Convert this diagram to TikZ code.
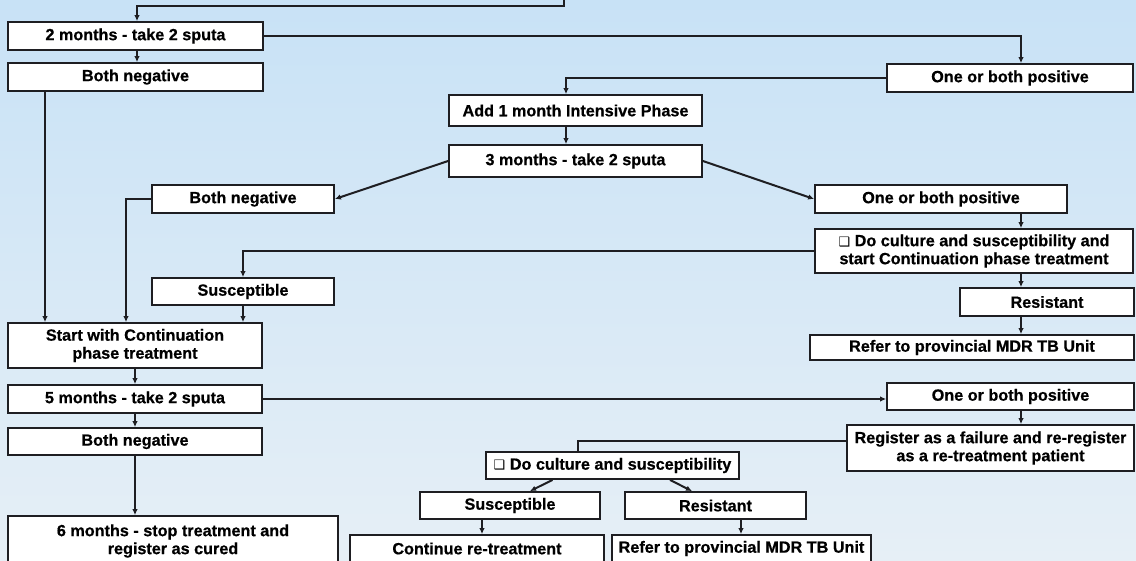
\documentclass[tikz,border=0pt]{standalone}
\usepackage{fontspec}
\setmainfont{Liberation Sans}[BoldFeatures={FakeBold=0.6}]
\newfontfamily\symfont{DejaVu Sans}
\usetikzlibrary{arrows.meta,calc}
\definecolor{bgtop}{RGB}{200,226,246}
\definecolor{bgbot}{RGB}{230,239,246}
\definecolor{ink}{RGB}{30,30,34}
\newcommand{\chk}{{\symfont\fontsize{13}{13}\selectfont ❑}}
\tikzset{
  box/.style={draw=ink, line width=1.8pt, fill=white, inner sep=0pt, align=center,
    font=\fontsize{16.2}{18}\selectfont\bfseries, text=black},
  arr/.style={draw=ink, line width=2pt, -{Latex[length=6pt,width=5.5pt]}},
  ln/.style={draw=ink, line width=2pt},
}
\begin{document}
\begin{tikzpicture}[x=1pt,y=-1pt]
\useasboundingbox (0,0) rectangle (1136,560);
\clip (0,0) rectangle (1136,560);
\shade[top color=bgtop, bottom color=bgbot] (0,0) rectangle (1136,560);

\node[box, minimum width=255, minimum height=28] (m2)   at (135.5,36)   {2 months - take 2 sputa};
\node[box, minimum width=255, minimum height=28] (neg1) at (135.5,77)   {Both negative};
\node[box, minimum width=246, minimum height=28] (pos1) at (1010,78)    {One or both positive};
\node[box, minimum width=253, minimum height=31] (add1) at (575.5,110.5){Add 1 month Intensive Phase};
\node[box, minimum width=253, minimum height=32] (m3)   at (575.5,161)  {3 months - take 2 sputa};
\node[box, minimum width=182, minimum height=28] (neg2) at (243,199)    {Both negative};
\node[box, minimum width=252, minimum height=28] (pos2) at (941,199)    {One or both positive};
\node[box, minimum width=318, minimum height=44] (cult1) at (974,251)   {\chk\ Do culture and susceptibility and\\start Continuation phase treatment};
\node[box, minimum width=182, minimum height=27] (susc1) at (243,291.5) {Susceptible};
\node[box, minimum width=174, minimum height=28] (res1) at (1047,302)   {Resistant};
\node[box, minimum width=324, minimum height=25] (mdr1) at (972,347.5)  {Refer to provincial MDR TB Unit};
\node[box, minimum width=254, minimum height=45] (start) at (135,345.5) {Start with Continuation\\phase treatment};
\node[box, minimum width=254, minimum height=28] (m5)   at (135,399)    {5 months - take 2 sputa};
\node[box, minimum width=254, minimum height=27] (neg3) at (135,441.5)  {Both negative};
\node[box, minimum width=330, minimum height=50] (m6)   at (173,541)    {6 months - stop treatment and\\register as cured};
\node[box, minimum width=247, minimum height=27] (pos3) at (1010.5,396.5){One or both positive};
\node[box, minimum width=287, minimum height=46] (reg)  at (990.5,448)  {Register as a failure and re-register\\as a re-treatment patient};
\node[box, minimum width=253, minimum height=27] (cult2) at (612.5,465.5){\chk\ Do culture and susceptibility};
\node[box, minimum width=180, minimum height=27] (susc2) at (510,505.5) {Susceptible};
\node[box, minimum width=181, minimum height=27] (res2) at (715.5,505.5){Resistant};
\node[box, minimum width=254, minimum height=27] (cont) at (477,548.5)  {Continue re-treatment};
\node[box, minimum width=259, minimum height=27] (mdr2) at (741.5,548.5){Refer to provincial MDR TB Unit};

\coordinate (topc) at (564,-2);

% connectors
\draw[arr] (topc) -- ++(0,8) -| ([xshift=1.5]m2.north);
\draw[arr] ([xshift=1.5]m2.south) -- ([xshift=1.5]neg1.north);
\draw[arr] (m2.east) -| ([xshift=11]pos1.north);
\draw[arr] (pos1.west) -| ([xshift=-9.5]add1.north);
\draw[arr] ([xshift=-9.5]add1.south) -- ([xshift=-9.5]m3.north);
\draw[arr] (m3.west) -- (neg2.east);
\draw[arr] (m3.east) -- (pos2.west);
\draw[arr] ([xshift=80]pos2.south) -- ([xshift=80]pos2.south |- cult1.north);
\draw[arr] (cult1.west) -| (susc1.north);
\draw[arr] ([xshift=-26]res1.north |- cult1.south) -- ([xshift=-26]res1.north);
\draw[arr] ([xshift=-26]res1.south) -- ([xshift=-26]res1.south |- mdr1.north);
\draw[arr] ([xshift=-90.5]neg1.south) -- ([xshift=-90.5]neg1.south |- start.north);
\draw[arr] (neg2.west) -| ([xshift=-9]start.north);
\draw[arr] (susc1.south) -- (susc1.south |- start.north);
\draw[arr] (start.south) -- (m5.north);
\draw[arr] (m5.south) -- (neg3.north);
\draw[arr] (m5.east) -- (m5.east -| pos3.west);
\draw[arr] ([xshift=10.5]pos3.south) -- ([xshift=10.5]pos3.south |- reg.north);
\draw[arr] (neg3.south) -- (neg3.south |- m6.north);
\draw[ln] ($(reg.west)+(0,-7)$) -| ([xshift=-34.5]cult2.north);
\draw[arr] ([xshift=-60]cult2.south) -- ([xshift=20]susc2.north);
\draw[arr] ([xshift=57.5]cult2.south) -- ([xshift=-23.5]res2.north);
\draw[arr] ([xshift=-28]susc2.south) -- ([xshift=-28]susc2.south |- cont.north);
\draw[arr] ([xshift=25.5]res2.south) -- ([xshift=25.5]res2.south |- mdr2.north);
\end{tikzpicture}
\end{document}
